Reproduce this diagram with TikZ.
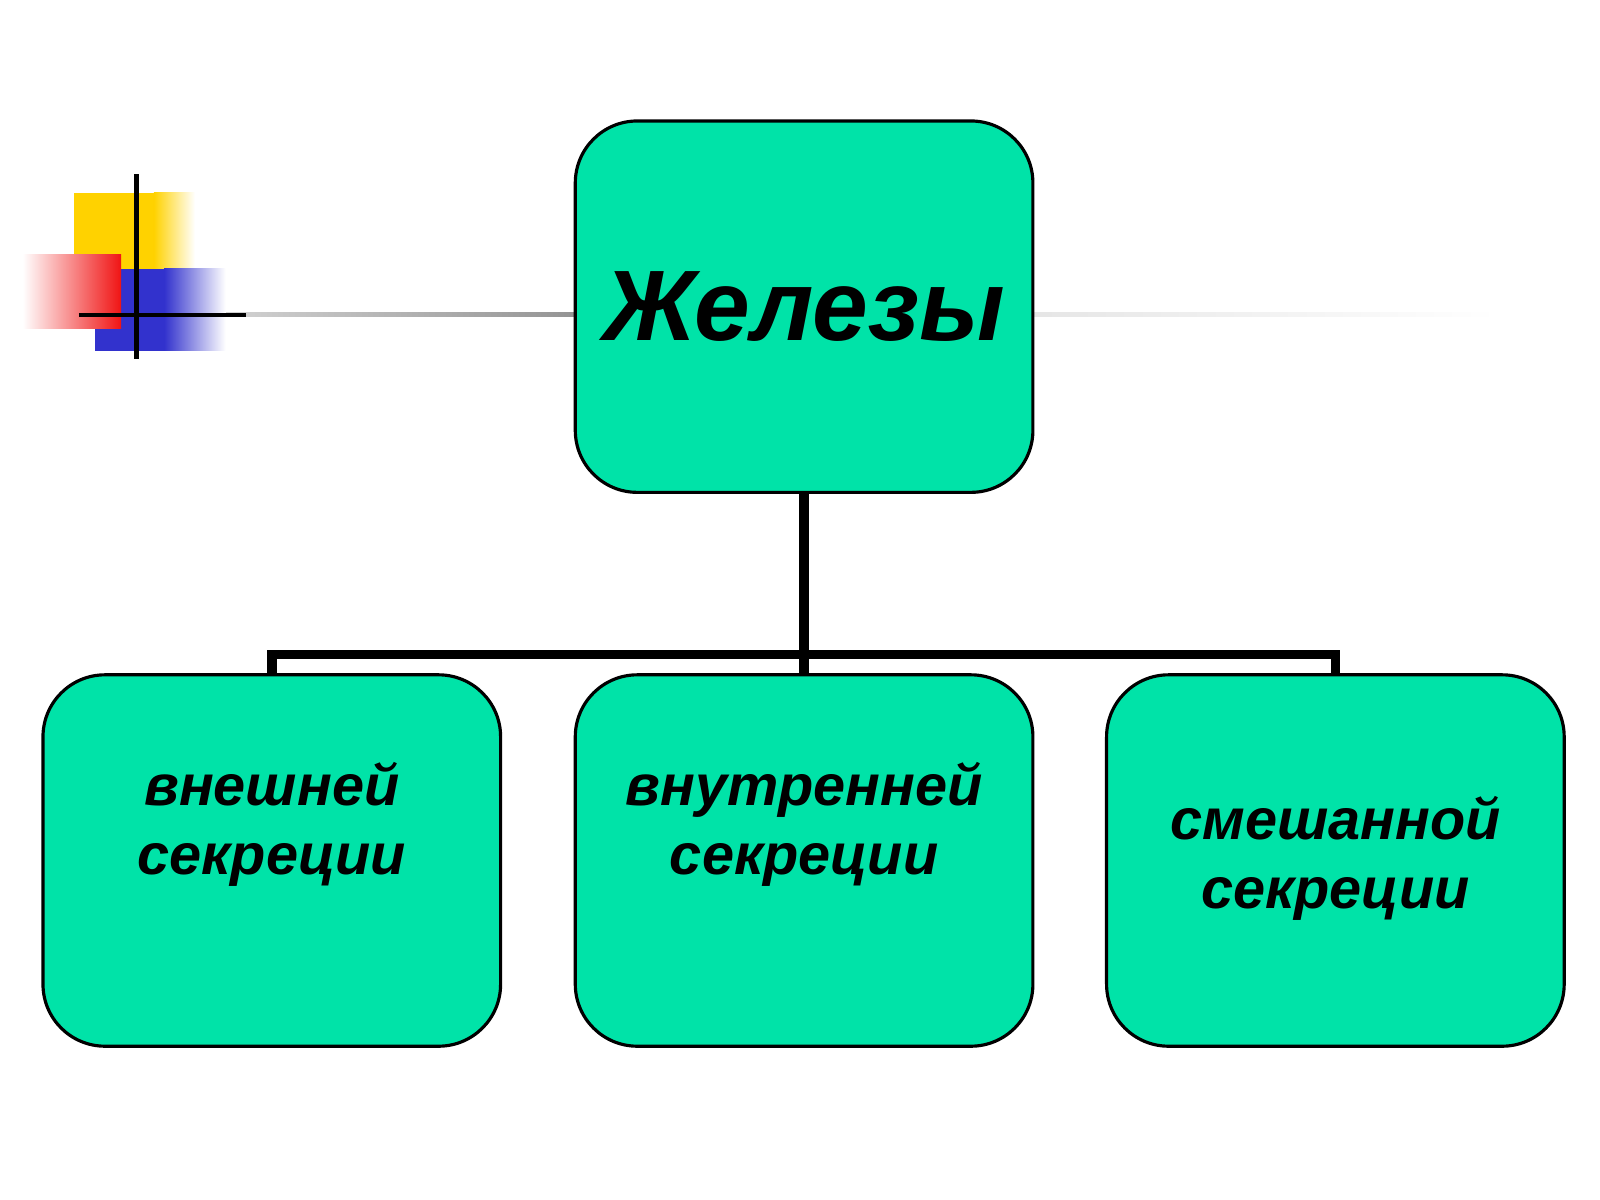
\documentclass[tikz,border=0pt]{standalone}
\usepackage{fontspec}
\setmainfont{Liberation Sans}
\definecolor{boxg}{HTML}{00E3A8}
\definecolor{dyel}{RGB}{255,210,0}
\definecolor{dblu}{RGB}{50,50,205}
\definecolor{dred}{RGB}{240,20,20}
\begin{document}
\begin{tikzpicture}[x=0.010256cm,y=-0.010256cm,
  gbox/.style={draw=black,line width=0.9pt,fill=boxg,rounded corners=0.62cm,minimum width=4.575cm,minimum height=3.713cm,inner sep=0pt,align=center},
  conn/.style={line width=2.7pt,black}]
\useasboundingbox (0,0) rectangle (1560,1170);
% decoration
\shade[left color=gray!15,right color=gray!85] (77,305) rectangle (565,309);
\shade[left color=gray!20,right color=white] (1007,305) rectangle (1460,309);
\fill[dyel] (72,188) rectangle (150,300);
\shade[left color=dyel,right color=white] (150,188) rectangle (190,300);
\fill[dblu] (93,262) rectangle (160,342);
\shade[left color=dblu,right color=white] (160,262) rectangle (220,342);
\shade[left color=white,right color=dred] (22,248) rectangle (118,320);
\draw[line width=1.4pt] (133,170) -- (133,350);
\draw[line width=1.3pt] (77,307) -- (240,307);
% boxes
\node[gbox] (top) at (784,299) {\fontsize{28.5}{32}\selectfont\bfseries\itshape Железы};
\node[gbox] (b1) at (265,839) {\raisebox{1.25cm}{\parbox{4.2cm}{\centering\fontsize{16.4}{19.5}\selectfont\bfseries\itshape внешней\\секреции}}};
\node[gbox] (b2) at (784,839) {\raisebox{1.25cm}{\parbox{4.2cm}{\centering\fontsize{16.4}{19.5}\selectfont\bfseries\itshape внутренней\\секреции}}};
\node[gbox] (b3) at (1302,839) {\raisebox{0.57cm}{\parbox{4.2cm}{\centering\fontsize{16.4}{19.5}\selectfont\bfseries\itshape смешанной\\секреции}}};
\coordinate (j) at (784,638);
\draw[conn] (top.south) -- (j) -- (b2.north);
\draw[conn] (b1.north) -- (b1.north |- j) -- (b3.north |- j) -- (b3.north);
\end{tikzpicture}
\end{document}
